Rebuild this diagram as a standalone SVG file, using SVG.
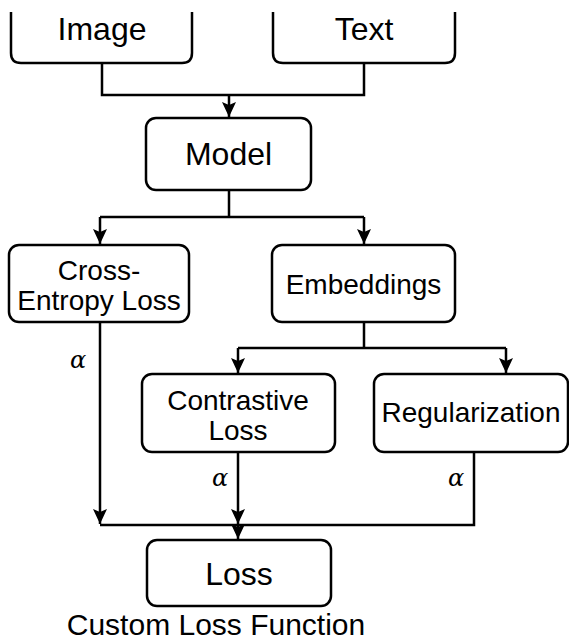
<svg xmlns="http://www.w3.org/2000/svg" width="569" height="642" viewBox="0 0 569 642">
<defs>
<marker id="arr" markerWidth="16" markerHeight="16" refX="15" refY="7" orient="auto" markerUnits="userSpaceOnUse">
<path d="M0,0 L15,7 L0,14 L3,7 Z" fill="#000"/>
</marker>
<style>
.box{fill:#fff;stroke:#000;stroke-width:2.5}
.t{font-family:"Liberation Sans",Arial,sans-serif;fill:#000;text-anchor:middle}
.big{font-size:32px}
.mid{font-size:28px}
.c{fill:none;stroke:#000;stroke-width:2.5}
.a{font-family:"DejaVu Serif","Liberation Serif",serif;font-style:italic;font-size:24px;fill:#000;text-anchor:middle}
</style>
</defs>
<rect width="569" height="642" fill="#fff"/>
<g id="connectors">
<path class="c" d="M102,63 V95 H364 V63"/>
<path class="c" d="M229,95 V117" marker-end="url(#arr)"/>
<path class="c" d="M229,190 V217 M100,217 H364"/>
<path class="c" d="M100,217 V244" marker-end="url(#arr)"/>
<path class="c" d="M364,217 V244" marker-end="url(#arr)"/>
<path class="c" d="M364,322 V348 M238,348 H506"/>
<path class="c" d="M238,348 V373" marker-end="url(#arr)"/>
<path class="c" d="M506,348 V373" marker-end="url(#arr)"/>
<path class="c" d="M100,322 V524" marker-end="url(#arr)"/>
<path class="c" d="M238,452 V524" marker-end="url(#arr)"/>
<path class="c" d="M474,452 V525 H100"/>
<path class="c" d="M238,525 V539" marker-end="url(#arr)"/>
<text class="a" x="78" y="368">α</text>
<text class="a" x="220" y="486">α</text>
<text class="a" x="456" y="486">α</text>
</g>
<g id="image">
<path class="box" d="M11,12 V53 Q11,63 21,63 H182 Q192,63 192,53 V12"/>
<text class="t big" x="102" y="40">Image</text>
</g>
<g id="text">
<path class="box" d="M273,12 V53 Q273,63 283,63 H445 Q455,63 455,53 V12"/>
<text class="t big" x="364" y="40">Text</text>
</g>
<g id="model">
<rect class="box" x="146" y="118" width="165" height="72" rx="10"/>
<text class="t big" x="228.5" y="165">Model</text>
</g>
<g id="cross-entropy">
<rect class="box" x="9" y="245" width="180" height="77" rx="10"/>
<text class="t mid" x="99" y="280">Cross-</text>
<text class="t mid" x="99" y="310">Entropy Loss</text>
</g>
<g id="embeddings">
<rect class="box" x="272" y="245" width="183" height="77" rx="10"/>
<text class="t mid" x="363.5" y="294">Embeddings</text>
</g>
<g id="contrastive">
<rect class="box" x="142" y="374" width="193" height="78" rx="10"/>
<text class="t mid" x="238" y="410">Contrastive</text>
<text class="t mid" x="238" y="440">Loss</text>
</g>
<g id="regularization">
<rect class="box" x="374" y="374" width="194" height="78" rx="10"/>
<text class="t mid" x="471" y="422">Regularization</text>
</g>
<g id="loss">
<rect class="box" x="147" y="540" width="184" height="66" rx="10"/>
<text class="t big" x="239" y="585">Loss</text>
</g>
<text class="t" style="font-size:30px" x="216" y="635">Custom Loss Function</text>
</svg>
